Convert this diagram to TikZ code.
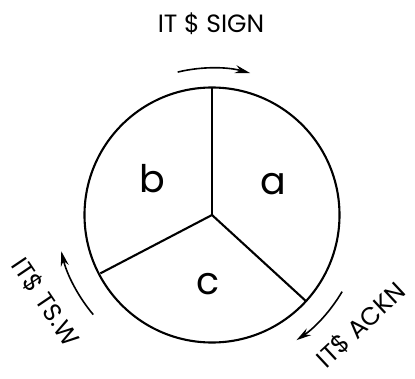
\documentclass[tikz,border=0pt]{standalone}
\usepackage{fontspec}
\setmainfont{Poppins}
\usetikzlibrary{arrows.meta}
\begin{document}
\begin{tikzpicture}[x=1pt,y=1pt,
  line/.style={line width=2.1pt},
  arr/.style={line width=1.6pt,-{Stealth[length=15pt,width=8pt]}},
  lab/.style={font=\fontsize{25}{25}\selectfont, inner sep=0pt},
  seg/.style={font=\fontsize{38}{38}\selectfont, inner sep=0pt}]
\useasboundingbox (0,0) rectangle (415,378);
\coordinate (C) at (212,163);
\draw[line] (C) circle[radius=127.5];
\draw[line] (C) -- ++(90:127.5) coordinate (t1);
\draw[line] (C) -- ++(207.6:126) coordinate (t2);
\draw[line] (C) -- ++(-42.5:127) coordinate (t3);
\node[seg] (a) at (273,194) {a};
\node[seg] (b) at (152,199) {b};
\node[seg] (c) at (208,94) {c};
\draw[arr] ([shift={(103.5:147)}]C) arc[start angle=103.5, end angle=75, radius=147];
\draw[arr] ([shift={(220:155)}]C) arc[start angle=220, end angle=193.5, radius=155];
\draw[arr] ([shift={(-30.5:151)}]C) arc[start angle=-30.5, end angle=-56, radius=151];
\node[lab] (sign) at (211,354) {IT \$ SIGN};
\node[lab, rotate=-56] (tsw) at (46,76) {IT\$ TS.W};
\node[lab, rotate=43] (ackn) at (361,53) {IT\$ ACKN};
\end{tikzpicture}
\end{document}
